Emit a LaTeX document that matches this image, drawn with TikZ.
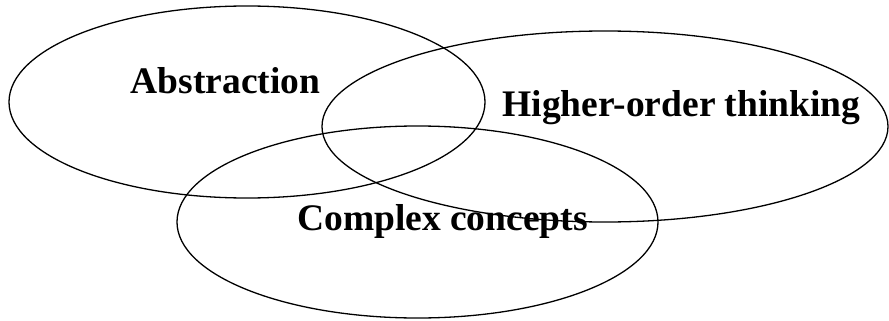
\documentclass[tikz,border=0pt]{standalone}
\usepackage{fontspec}
\setmainfont{Liberation Serif}
\usetikzlibrary{shapes.geometric}
\newcommand{\vennfont}{\fontsize{37.5}{45}\selectfont\bfseries}

\begin{document}
\begin{tikzpicture}[x=1pt, y=-1pt, font=\vennfont,
    set/.style={ellipse, draw=black, line width=1.3pt, inner sep=0pt},
    setlabel/.style={anchor=base, inner sep=0pt}]
    \useasboundingbox (0,0) rectangle (889,321);
    % the three overlapping sets
    \node[set, minimum width=476pt, minimum height=192pt] (abs) at (247,102) {};
    \node[set, minimum width=566pt, minimum height=191pt] (hot) at (605,126.5) {};
    \node[set, minimum width=481pt, minimum height=192pt] (cpx) at (417.5,222) {};
    % labels
    \node[setlabel] (abslbl) at (225.5,93) {Abstraction};
    \node[setlabel] (hotlbl) at (681.5,117) {Higher-order thinking};
    \node[setlabel] (cpxlbl) at (442.5,230) {Complex concepts};
\end{tikzpicture}
\end{document}
